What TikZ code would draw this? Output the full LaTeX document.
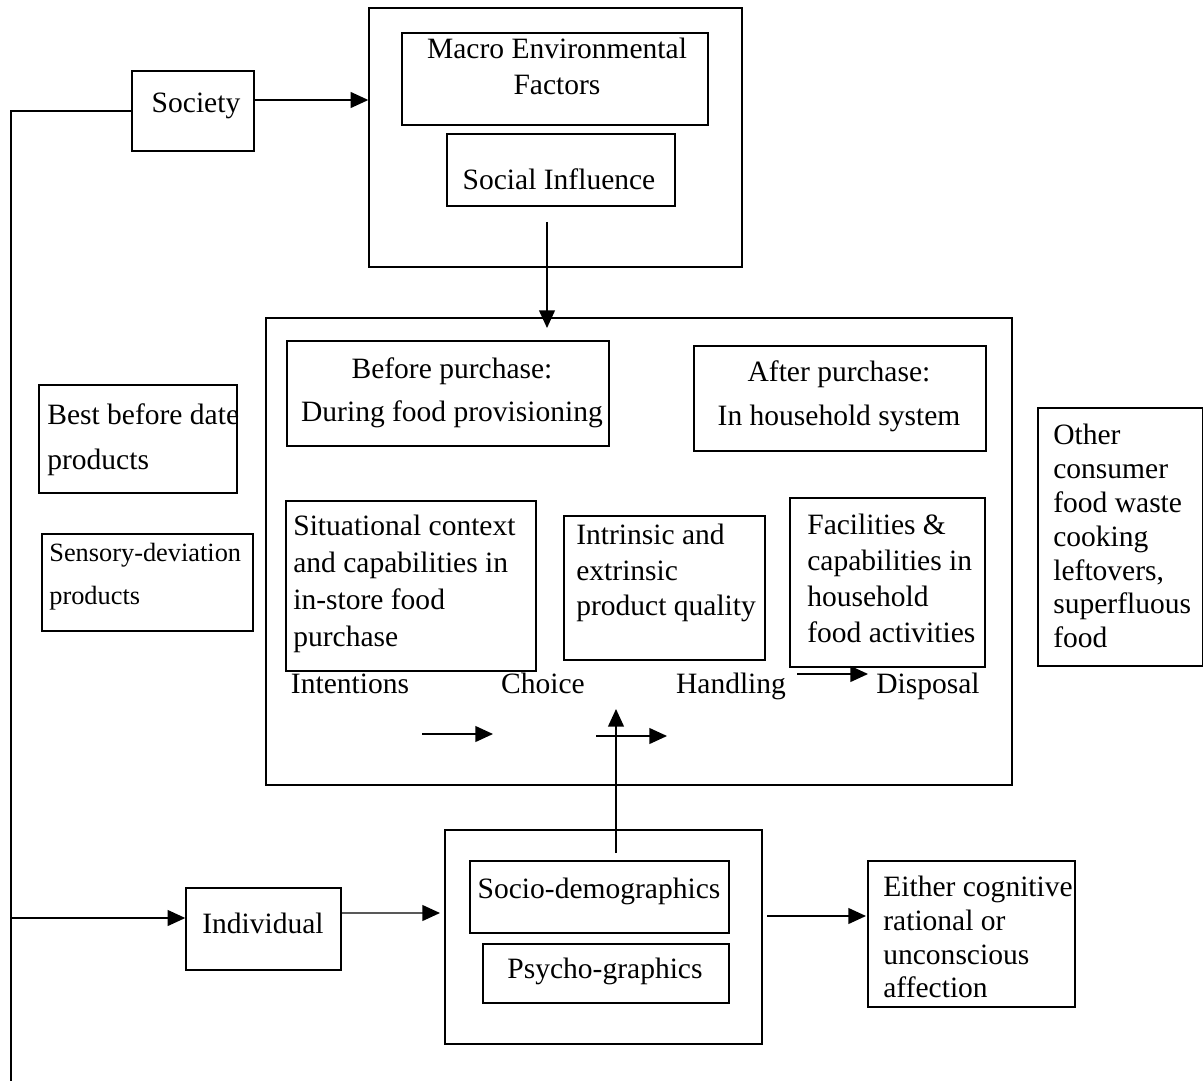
\documentclass[tikz,border=0pt]{standalone}
\usepackage{fontspec}
\setmainfont{Liberation Serif}
\usetikzlibrary{arrows.meta,fit}
\begin{document}
\begin{tikzpicture}[x=0.02cm,y=-0.02cm,
  box/.style={draw, line width=0.8pt, inner sep=0pt},
  txt/.style={inner sep=0pt, font=\fontsize{16.8}{20.5}\selectfont},
  ln/.style={line width=0.8pt},
  arr/.style={line width=0.8pt, -{Triangle[length=10pt,width=9pt]}},
]
\useasboundingbox (0,0) rectangle (1203,1081);

% boxes
\node[box, fit={(132,71)(254,151)}] (society) {};
\node[box, fit={(369,8)(742,267)}] (topbox) {};
\node[box, fit={(402,33)(708,125)}] (macro) {};
\node[box, fit={(447,134)(675,206)}] (social) {};
\node[box, fit={(266,318)(1012,785)}] (mainbox) {};
\node[box, fit={(287,341)(609,446)}] (before) {};
\node[box, fit={(694,346)(986,451)}] (after) {};
\node[box, fit={(286,501)(536,671)}] (situ) {};
\node[box, fit={(564,516)(765,660)}] (intr) {};
\node[box, fit={(790,498)(985,667)}] (faci) {};
\node[box, fit={(445,830)(762,1044)}] (bottom) {};
\node[box, fit={(470,861)(729,933)}] (socio) {};
\node[box, fit={(483,944)(729,1003)}] (psycho) {};
\node[box, fit={(186,888)(341,970)}] (indiv) {};
\node[box, fit={(868,861)(1075,1007)}] (either) {};
\node[box, fit={(1038,408)(1203,666)}] (other) {};
\node[box, fit={(39,385)(237,493)}] (best) {};
\node[box, fit={(42,534)(253,631)}] (sens) {};

% texts
\node[txt, anchor=base] (tsociety) at (196,113) {Society};
\node[txt, align=center, font=\fontsize{16.8}{20.4}\selectfont] (tmacro) at (557,66) {Macro Environmental\\Factors};
\node[txt, anchor=base] (tsocial) at (559,190) {Social Influence};
\node[txt, align=center, font=\fontsize{16.8}{24.4}\selectfont] (tbefore) at (452,393) {Before purchase:\\During food provisioning};
\node[txt, align=center, font=\fontsize{16.8}{25}\selectfont] (tafter) at (839,396) {After purchase:\\In household system};
\node[txt, anchor=west, align=left, font=\fontsize{16.8}{21}\selectfont] (tsitu) at (293,584) {Situational context\\and capabilities in\\in-store food\\purchase};
\node[txt, anchor=west, align=left, font=\fontsize{16.8}{20.4}\selectfont] (tintr) at (576,573) {Intrinsic and\\extrinsic\\product quality};
\node[txt, anchor=west, align=left, font=\fontsize{16.8}{20.5}\selectfont] (tfaci) at (807,578) {Facilities \&\\capabilities in\\household\\food activities};
\node[txt, anchor=base] (tintent) at (350,693) {Intentions};
\node[txt, anchor=base] (tchoice) at (543,693) {Choice};
\node[txt, anchor=base] (thandl) at (731,693) {Handling};
\node[txt, anchor=base] (tdisp) at (928,693) {Disposal};
\node[txt, anchor=base] (tsocio) at (599,898) {Socio-demographics};
\node[txt, anchor=base] (tpsycho) at (605,978) {Psycho-graphics};
\node[txt, anchor=base] (tindiv) at (263,933) {Individual};
\node[txt, anchor=west, align=left, font=\fontsize{16.8}{19.3}\selectfont] (teither) at (883,937) {Either cognitive\\rational or\\unconscious\\affection};
\node[txt, anchor=west, align=left, font=\fontsize{16.8}{19.3}\selectfont] (tother) at (1053,536) {Other\\consumer\\food waste\\cooking\\leftovers,\\superfluous\\food};
\node[txt, anchor=west, align=left, font=\fontsize{16.8}{25.5}\selectfont] (tbest) at (47,440) {Best before date\\products};
\node[txt, anchor=west, align=left, font=\fontsize{15}{24.4}\selectfont] (tsens) at (49,577) {Sensory-deviation\\products};

% coordinates
\coordinate (lb) at (11,1081);
\coordinate (sa) at ([yshift=0.22cm]society.east);
\coordinate (ia) at ([yshift=0.22cm]indiv.west);
\coordinate (ib) at ([yshift=0.32cm]indiv.east);
\coordinate (ibEnd) at (440,913);
\coordinate (sd) at (547,222);
\coordinate (sdEnd) at (547,328);
\coordinate (up) at (616,853);
\coordinate (upEnd) at (616,709);
\coordinate (h1) at (422,734);
\coordinate (h1End) at (493,734);
\coordinate (h2) at (596,736);
\coordinate (h2End) at (667,736);
\coordinate (h3) at (797,674);
\coordinate (h3End) at (868,674);
\coordinate (ea) at (767,916);
\coordinate (eaEnd) at (866,916);

% connectors
\draw[ln] (society.west) -| (lb);
\draw[arr] (sa) -- (sa -| topbox.west);
\draw[arr] (ia -| lb) -- (ia);
\draw[arr] (ib) -- (ibEnd);
\draw[arr] (sd) -- (sdEnd);
\draw[arr] (up) -- (upEnd);
\draw[arr] (h1) -- (h1End);
\draw[arr] (h2) -- (h2End);
\draw[arr] (h3) -- (h3End);
\draw[arr] (ea) -- (eaEnd);
\end{tikzpicture}
\end{document}
